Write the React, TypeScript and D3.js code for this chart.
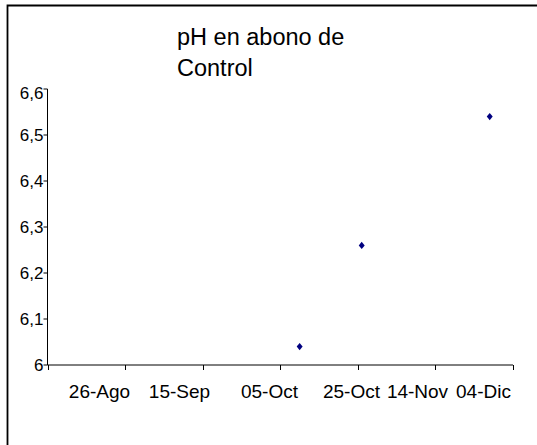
import React from "react";
import * as d3 from "d3";

// pH del abono de control, fechas de muestreo
const sampleDates = ["2003-10-10", "2003-10-26", "2003-11-28"];
const phValues = [6.04, 6.26, 6.54];

// eje X: cada 20 días desde 06-Ago; la primera marca no lleva etiqueta
const xTickDates = [
  "2003-08-06",
  "2003-08-26",
  "2003-09-15",
  "2003-10-05",
  "2003-10-25",
  "2003-11-14",
  "2003-12-04",
];
const xTickLabels = ["", "26-Ago", "15-Sep", "05-Oct", "25-Oct", "14-Nov", "04-Dic"];
const yTicks = [6, 6.1, 6.2, 6.3, 6.4, 6.5, 6.6];
const titleLines = ["pH en abono de", "Control"];

const W = 537;
const H = 445;
const FONT = "'Liberation Sans', Arial, sans-serif";
// desplazamiento de las etiquetas como lo dejó Excel
const labelDx = [0, -26, -24, -11, -7, -18, -30];

const parse = (s: string) => new Date(s + "T00:00:00Z");

const locale = d3.formatLocale({
  decimal: ",",
  thousands: ".",
  grouping: [3],
  currency: ["", ""],
});
const fmt = locale.format(".1~f");

// rombo algo más ancho que el de d3
const fatDiamond: d3.SymbolType = {
  draw(ctx, size) {
    const h = Math.sqrt(size) * 0.62;
    const w = h * 0.8;
    ctx.moveTo(0, -h);
    ctx.lineTo(w, 0);
    ctx.lineTo(0, h);
    ctx.lineTo(-w, 0);
    ctx.closePath();
  },
};

export default function App() {
  const x = d3
    .scaleUtc()
    .domain([parse(xTickDates[0]), parse(xTickDates[xTickDates.length - 1])])
    .range([47.5, 513]);
  const y = d3.scaleLinear().domain([6, 6.6]).range([365, 89]);

  const diamond = d3.symbol(fatDiamond, 36)() ?? "";
  const points = sampleDates.map((d, i) => ({ date: parse(d), value: phValues[i] }));

  return (
    <div style={{ position: "absolute", left: 0, top: 0 }}>
      <svg width={W} height={H} style={{ display: "block", background: "#fff" }}>
        <rect width={W} height={H} fill="#fff" />
        {/* marco del gráfico */}
        <path d={`M7.5,${H + 5}V5.5H${W + 5}`} fill="none" stroke="#000" strokeWidth={1.8} />

        {/* título */}
        <text fontFamily={FONT} fontSize={23.5} fill="#000">
          {titleLines.map((t, i) => (
            <tspan key={i} x={177} y={45 + i * 31}>
              {t}
            </tspan>
          ))}
        </text>

        {/* eje Y */}
        <line x1={x.range()[0]} x2={x.range()[0]} y1={y(6.6)} y2={y(6)} stroke="#000" />
        {yTicks.map((t) => (
          <g key={t}>
            <line x1={x.range()[0] - 4} x2={x.range()[0]} y1={y(t)} y2={y(t)} stroke="#000" />
            <text
              x={x.range()[0] - 4}
              y={y(t) + (t === 6.6 ? 4 : 0)}
              dy="0.36em"
              textAnchor="end"
              fontFamily={FONT}
              fontSize={17}
              fill="#000"
            >
              {fmt(t)}
            </text>
          </g>
        ))}

        {/* eje X */}
        <line x1={x.range()[0]} x2={x.range()[1]} y1={y(6)} y2={y(6)} stroke="#000" />
        {xTickDates.map((d, i) => {
          const px = Math.round(x(parse(d))) + 0.5;
          return (
            <g key={d}>
              <line x1={px} x2={px} y1={y(6)} y2={y(6) + 5} stroke="#000" />
              {xTickLabels[i] && (
                <text
                  x={px + labelDx[i]}
                  y={398}
                  textAnchor="middle"
                  fontFamily={FONT}
                  fontSize={19}
                  fill="#000"
                >
                  {xTickLabels[i]}
                </text>
              )}
            </g>
          );
        })}

        {/* puntos */}
        {points.map((p, i) => (
          <path
            key={i}
            d={diamond}
            transform={`translate(${x(p.date)},${y(p.value)})`}
            fill="#000080"
          />
        ))}
      </svg>
    </div>
  );
}
